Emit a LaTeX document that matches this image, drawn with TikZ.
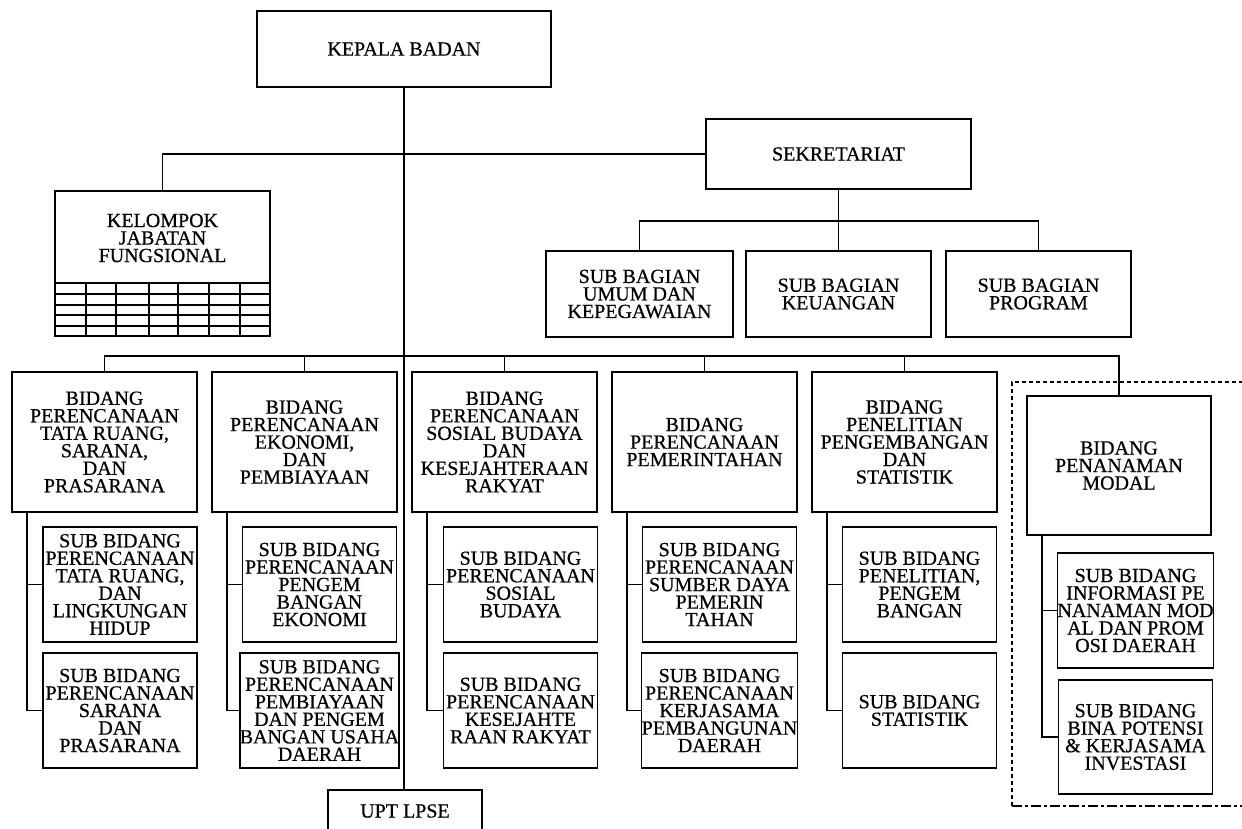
\documentclass[tikz,border=0pt]{standalone}
\usepackage{fontspec}
\setmainfont{Liberation Serif}[FakeBold=0.6]
\begin{document}
\begin{tikzpicture}[x=1pt,y=-1pt,
  box/.style={draw, line width=1.5pt, inner sep=0pt, align=center,
    font=\fontsize{20}{17.5}\selectfont},
  bid/.style={box, minimum width=185pt, minimum height=140pt},
  sub/.style={box, minimum width=154pt, minimum height=115pt},
  sbag/.style={box, minimum height=86pt},
  conn/.style={line width=1.5pt},
  grid/.style={line width=1.3pt}]
\useasboundingbox (0,0) rectangle (1242,828);

% top
\node[box, minimum width=294pt, minimum height=76pt] (kepala) at (404,49) {KEPALA BADAN};
\node[box, minimum width=265pt, minimum height=70pt] (sek) at (838.5,154) {SEKRETARIAT};
\node[box, minimum width=215pt, minimum height=145pt] (kjf) at (162.5,263.5) {};
\node[align=center, inner sep=0pt, font=\fontsize{20}{17.5}\selectfont] (kjft) at (162.5,238) {KELOMPOK\\JABATAN\\FUNGSIONAL};

% kelompok grid
\foreach \yy in {283,294,305,315,326}
  \draw[grid] (55,\yy) -- (270,\yy);
\foreach \xx in {86,116,149,178,209,240}
  \draw[grid] (\xx,283) -- (\xx,336);

% sub bagian
\node[sbag, minimum width=187pt] (umum) at (639.5,294) {SUB BAGIAN\\UMUM DAN\\KEPEGAWAIAN};
\node[sbag, minimum width=185pt] (keu) at (838.5,294) {SUB BAGIAN\\KEUANGAN};
\node[sbag, minimum width=185pt] (prog) at (1038.5,294) {SUB BAGIAN\\PROGRAM};

% bidang row
\node[bid] (b1) at (104.5,442) {BIDANG\\PERENCANAAN\\TATA RUANG,\\SARANA,\\DAN\\PRASARANA};
\node[bid] (b2) at (304.5,442) {BIDANG\\PERENCANAAN\\EKONOMI,\\DAN\\PEMBIAYAAN};
\node[bid] (b3) at (504.5,442) {BIDANG\\PERENCANAAN\\SOSIAL BUDAYA\\DAN\\KESEJAHTERAAN\\RAKYAT};
\node[bid] (b4) at (704.5,442) {BIDANG\\PERENCANAAN\\PEMERINTAHAN};
\node[bid] (b5) at (904.5,442) {BIDANG\\PENELITIAN\\PENGEMBANGAN\\DAN\\STATISTIK};
\node[bid, minimum width=184pt, minimum height=139pt] (b6) at (1119,465.5) {BIDANG\\PENANAMAN\\MODAL};

% sub bidang
\node[sub] (s1a) at (120,584.5) {SUB BIDANG\\PERENCANAAN\\TATA RUANG,\\DAN\\LINGKUNGAN\\HIDUP};
\node[sub] (s1b) at (120,710.5) {SUB BIDANG\\PERENCANAAN\\SARANA\\DAN\\PRASARANA};
\node[sub] (s2a) at (319.5,584.5) {SUB BIDANG\\PERENCANAAN\\PENGEM\\BANGAN\\EKONOMI};
\node[sub] (s2b) at (319.5,710.5) {SUB BIDANG\\PERENCANAAN\\PEMBIAYAAN\\DAN PENGEM\\BANGAN USAHA\\DAERAH};
\node[sub] (s3a) at (520.5,584.5) {SUB BIDANG\\PERENCANAAN\\SOSIAL\\BUDAYA};
\node[sub] (s3b) at (520.5,710.5) {SUB BIDANG\\PERENCANAAN\\KESEJAHTE\\RAAN RAKYAT};
\node[sub] (s4a) at (719.5,584.5) {SUB BIDANG\\PERENCANAAN\\SUMBER DAYA\\PEMERIN\\TAHAN};
\node[sub] (s4b) at (719.5,710.5) {SUB BIDANG\\PERENCANAAN\\KERJASAMA\\PEMBANGUNAN\\DAERAH};
\node[sub] (s5a) at (919.5,584.5) {SUB BIDANG\\PENELITIAN,\\PENGEM\\BANGAN};
\node[sub] (s5b) at (919.5,710.5) {SUB BIDANG\\STATISTIK};
\node[sub] (s6a) at (1135.5,610.5) {SUB BIDANG\\INFORMASI PE\\NANAMAN MOD\\AL DAN PROM\\OSI DAERAH};
\node[sub, minimum height=114pt] (s6b) at (1135.5,737) {SUB BIDANG\\BINA POTENSI\\\& KERJASAMA\\INVESTASI};

% UPT
\node[box, minimum width=154pt, minimum height=42pt] (upt) at (405,811) {UPT LPSE};

% connectors: main spine
\draw[conn] (kepala.south) -- (kepala.south |- upt.north);
\draw[conn] (kjf.north) |- (sek.west);

% sekretariat
\coordinate (sj) at (838.5,221);
\draw[conn] (sek.south) -- (keu.north);
\draw[conn] (umum.north) |- (sj) -| (prog.north);

% bidang bus
\coordinate (bj) at (404,356);
\draw[conn] (b1.north) |- (bj) -| (b6.north);
\foreach \n in {b2,b3,b4,b5}
  \draw[conn] (\n.north) -- (\n.north |- bj);

% sub bidang branches
\foreach \b/\u/\v in {b1/s1a/s1b, b2/s2a/s2b, b3/s3a/s3b, b4/s4a/s4b, b5/s5a/s5b, b6/s6a/s6b}{
  \draw[conn] ([xshift=15.5pt]\b.south west) |- (\v.west);
  \draw[conn] ([xshift=15.5pt]\b.south west |- \u.west) -- (\u.west);
}

% dashed frame around Penanaman Modal
\draw[line width=1.2pt, dash pattern=on 4pt off 3pt] (1250,382) -- (1012,382) -- (1012,806);
\draw[line width=2.4pt, dash pattern=on 10pt off 3pt on 3pt off 3pt] (1012,806) -- (1250,806);
\end{tikzpicture}
\end{document}
